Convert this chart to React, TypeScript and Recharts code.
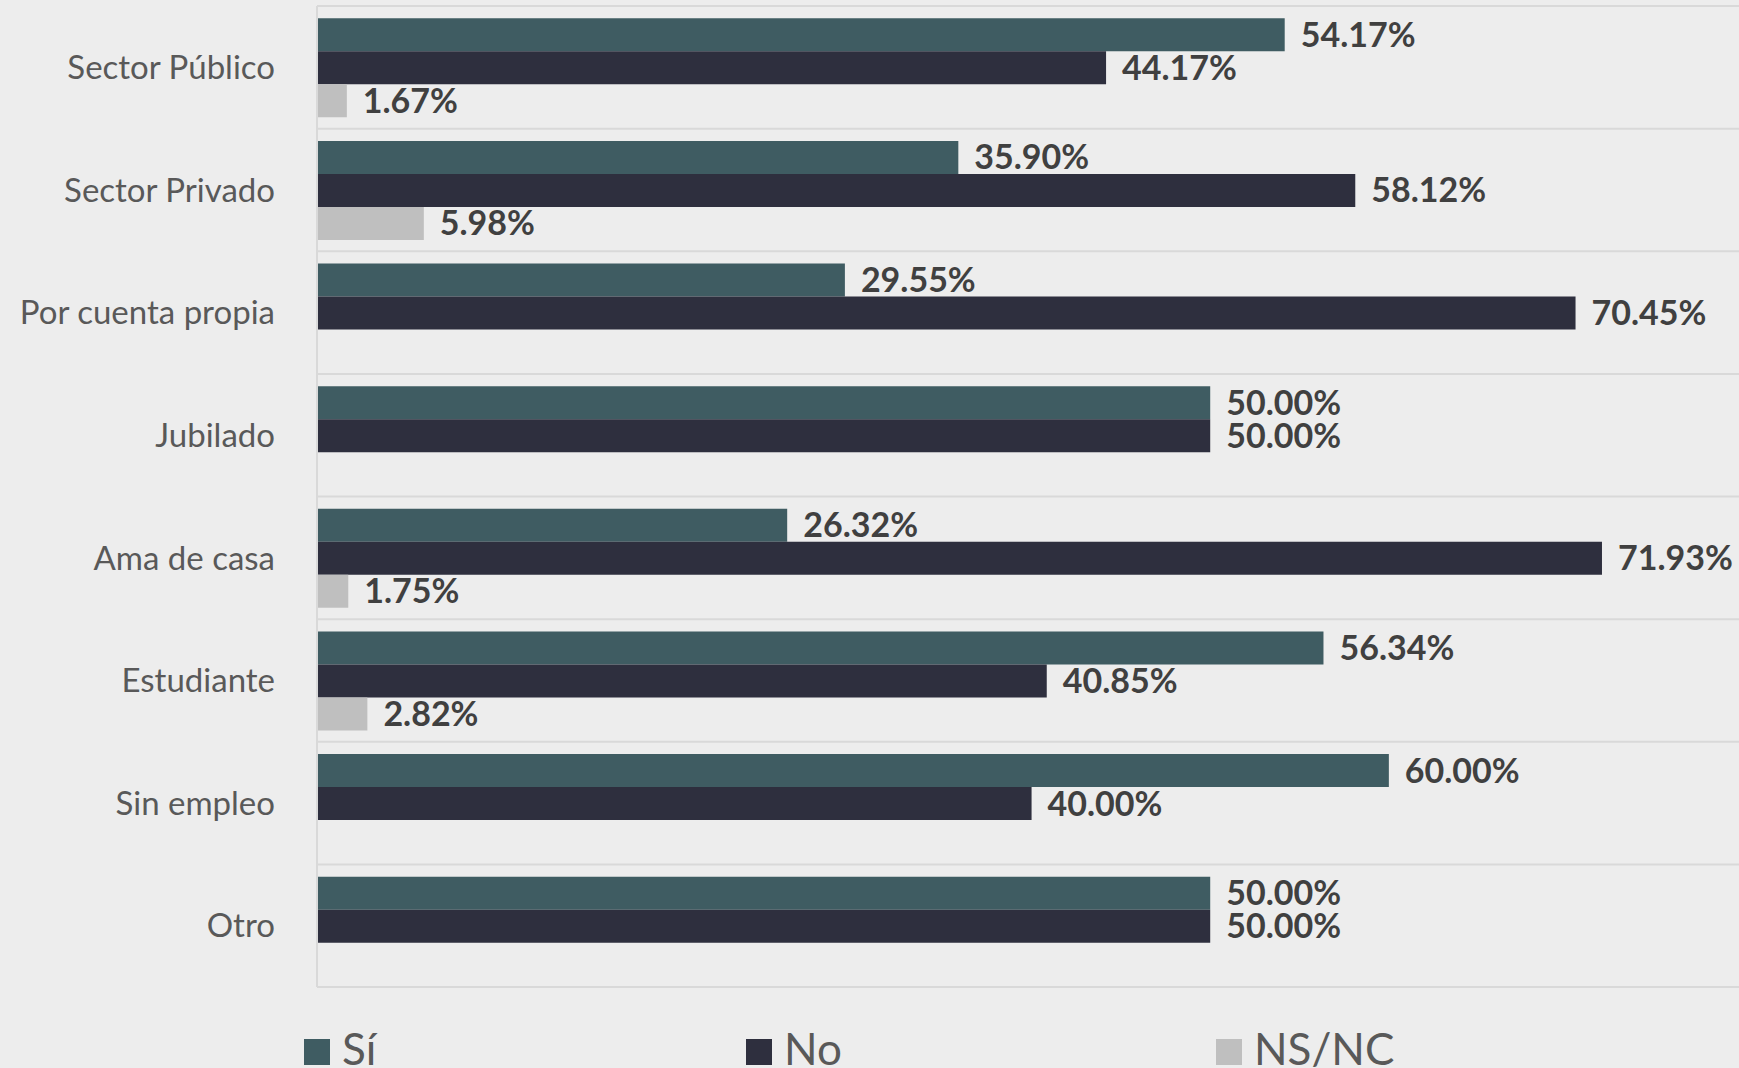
import React from 'react';
import { BarChart, Bar, XAxis, YAxis, CartesianGrid, Legend, LabelList } from 'recharts';

const categories = ['Sector Público', 'Sector Privado', 'Por cuenta propia', 'Jubilado', 'Ama de casa', 'Estudiante', 'Sin empleo', 'Otro'];
const siValues = [54.17, 35.9, 29.55, 50.0, 26.32, 56.34, 60.0, 50.0];
const noValues = [44.17, 58.12, 70.45, 50.0, 71.93, 40.85, 40.0, 50.0];
const nsValues: (number | null)[] = [1.67, 5.98, null, null, 1.75, 2.82, null, null];

const seriesNames = ['Sí', 'No', 'NS/NC'];
const seriesColors = ['#3F5C62', '#2E2F3E', '#BFBFBF'];

const data = categories.map((c, i) => ({
  name: c,
  si: siValues[i],
  no: noValues[i],
  ns: nsValues[i],
}));

const W = 1739;
const H = 1068;
const FONT = 'Lato, "Open Sans", sans-serif';
const LEGEND_X = [304, 746, 1216];

const fmt = (v: any) => (v === null || v === undefined ? '' : `${Number(v).toFixed(2)}%`);

const LegendContent = (props: any) => {
  const payload = [...(props.payload || [])].sort(
    (a: any, b: any) => seriesNames.indexOf(a.value) - seriesNames.indexOf(b.value)
  );
  return (
    <div style={{ position: 'relative', width: W, height: 42 }}>
      {payload.map((p: any, i: number) => (
        <div key={i} style={{ position: 'absolute', left: LEGEND_X[i], top: 0, height: 42 }}>
          <div style={{ position: 'absolute', left: 0, top: 13, width: 26, height: 26, background: p.color }} />
          <div
            style={{
              position: 'absolute',
              left: 38,
              top: 0,
              fontFamily: FONT,
              fontSize: 44,
              lineHeight: '44px',
              color: '#595959',
              whiteSpace: 'nowrap',
            }}
          >
            {p.value}
          </div>
        </div>
      ))}
    </div>
  );
};

export default function App() {
  return (
    <div style={{ position: 'absolute', left: 0, top: 0, width: W, height: H, background: '#EDEDED', overflow: 'hidden' }}>
      <BarChart
        width={W}
        height={H}
        data={data}
        layout="vertical"
        margin={{ top: 6, right: 0, left: 0, bottom: 39 }}
        barCategoryGap="10%"
        barGap={0}
      >
        <CartesianGrid
          vertical={false}
          stroke="#D9D9D9"
          strokeWidth={2}
          horizontalCoordinatesGenerator={(p: any) => {
            const off = p.offset;
            const n = categories.length;
            return Array.from({ length: n + 1 }, (_, i) => off.top + (i * off.height) / n);
          }}
        />
        <XAxis type="number" domain={[0, 79.6]} hide />
        <YAxis
          type="category"
          dataKey="name"
          width={317}
          tickLine={false}
          tickSize={0}
          tickMargin={42}
          axisLine={{ stroke: '#D9D9D9', strokeWidth: 2 }}
          tick={{ fill: '#595959', fontSize: 33, fontFamily: FONT }}
          interval={0}
        />
        <Legend
          verticalAlign="bottom"
          content={<LegendContent />}
          wrapperStyle={{ left: 0, top: 1026, width: W, height: 42 }}
        />
        <Bar dataKey="si" name={seriesNames[0]} fill={seriesColors[0]} isAnimationActive={false}>
          <LabelList dataKey="si" position="right" offset={16} formatter={fmt} fill="#404040" fontSize={34} fontWeight="bold" fontFamily={FONT} />
        </Bar>
        <Bar dataKey="no" name={seriesNames[1]} fill={seriesColors[1]} isAnimationActive={false}>
          <LabelList dataKey="no" position="right" offset={16} formatter={fmt} fill="#404040" fontSize={34} fontWeight="bold" fontFamily={FONT} />
        </Bar>
        <Bar dataKey="ns" name={seriesNames[2]} fill={seriesColors[2]} isAnimationActive={false}>
          <LabelList dataKey="ns" position="right" offset={16} formatter={fmt} fill="#404040" fontSize={34} fontWeight="bold" fontFamily={FONT} />
        </Bar>
      </BarChart>
    </div>
  );
}
